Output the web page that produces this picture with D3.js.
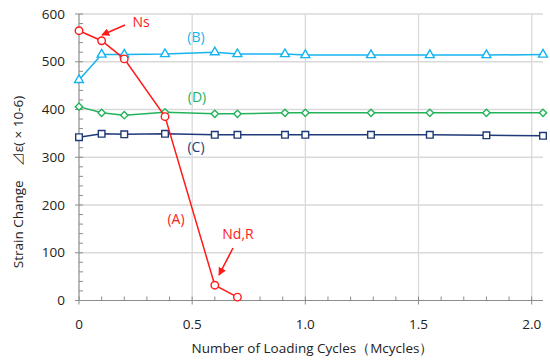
<!DOCTYPE html>
<html><head><meta charset="utf-8">
<script src="https://cdn.jsdelivr.net/npm/d3@7"></script>
<style>body{margin:0;background:#fff;}svg{display:block;font-family:"Open Sans","Noto Sans",sans-serif;}</style>
</head><body>
<script>
const xA = [0, 0.1, 0.2, 0.38, 0.6, 0.7];
const yA = [565, 544, 506, 385, 32, 7];
const xBCD = [0, 0.1, 0.2, 0.38, 0.6, 0.7, 0.91, 1.0, 1.29, 1.55, 1.8, 2.05];
const yB = [462, 515, 515, 516, 520, 516, 516, 514, 514, 514, 514, 515];
const yC = [342, 349, 348, 349, 347, 347, 347, 347, 347, 347, 346, 345];
const yD = [406, 393, 388, 394, 391, 391, 393, 393, 393, 393, 393, 393];
const xTicks = [0, 0.5, 1.0, 1.5, 2.0];
const xTickLabels = ["0", "0.5", "1.0", "1.5", "2.0"];
const yTicks = [0, 100, 200, 300, 400, 500, 600];

const W = 550, H = 362;
const m = {l: 79, r: 7, t: 14, b: 61.5};
const svg = d3.select("body").append("svg").attr("width", W).attr("height", H);
const x = d3.scaleLinear().domain([0, 2.05]).range([m.l, W - m.r]);
const y = d3.scaleLinear().domain([0, 600]).range([H - m.b, m.t]);

// gridlines
svg.append("g").selectAll("line").data(yTicks.slice(1)).join("line")
  .attr("x1", m.l).attr("x2", W - m.r).attr("y1", d => y(d)).attr("y2", d => y(d))
  .attr("stroke", "#d9d9d9").attr("stroke-width", 1.3);
svg.append("g").selectAll("line").data(xTicks.slice(1)).join("line")
  .attr("x1", d => x(d)).attr("x2", d => x(d)).attr("y1", m.t).attr("y2", H - m.b)
  .attr("stroke", "#d9d9d9").attr("stroke-width", 1.3);

// axes
const axCol = "#8c8c8c";
const ax = svg.append("g");
ax.append("line").attr("x1", x(0)).attr("x2", x(0)).attr("y1", y(600)).attr("y2", y(0)).attr("stroke", axCol).attr("stroke-width", 1.2);
ax.append("line").attr("x1", x(0) - 4).attr("x2", W - m.r).attr("y1", y(0)).attr("y2", y(0)).attr("stroke", axCol).attr("stroke-width", 1.2);
ax.selectAll(".ymaj").data(yTicks).join("line").attr("class","ymaj")
  .attr("x1", x(0) - 4).attr("x2", x(0) + 4).attr("y1", d => y(d)).attr("y2", d => y(d)).attr("stroke", axCol);
ax.selectAll(".ymin").data(d3.range(0, 601, 20).filter(v => v % 100)).join("line").attr("class","ymin")
  .attr("x1", x(0)).attr("x2", x(0) + 4).attr("y1", d => y(d)).attr("y2", d => y(d)).attr("stroke", axCol);
ax.selectAll(".xmaj").data(xTicks).join("line").attr("class","xmaj")
  .attr("x1", d => x(d)).attr("x2", d => x(d)).attr("y1", y(0) - 4).attr("y2", y(0) + 4).attr("stroke", axCol);
ax.selectAll(".xmin").data(d3.range(1, 21).map(v => v / 10).filter((v, i) => (i + 1) % 5)).join("line").attr("class","xmin")
  .attr("x1", d => x(d)).attr("x2", d => x(d)).attr("y1", y(0) - 4).attr("y2", y(0)).attr("stroke", axCol);

// tick labels
svg.append("g").selectAll("text").data(yTicks).join("text")
  .attr("x", x(0) - 14).attr("y", d => y(d)).attr("dy", "0.35em").attr("text-anchor", "end")
  .attr("font-size", 13.5).attr("fill", "#222").text(d => d);
svg.append("g").selectAll("text").data(xTicks).join("text")
  .attr("x", d => x(d)).attr("y", y(0) + 28).attr("text-anchor", "middle")
  .attr("font-size", 13.5).attr("fill", "#222").text((d, i) => xTickLabels[i]);

// axis titles
svg.append("text").attr("x", (197 + 428) / 2).attr("y", 353).attr("text-anchor", "middle")
  .attr("font-size", 13.5).attr("fill", "#222").text("Number of Loading Cycles（Mcycles）");
svg.append("text").attr("transform", "translate(23,182) rotate(-90)").attr("text-anchor", "middle")
  .attr("font-size", 13.5).attr("fill", "#222")
  .text("Strain Change　⊿ε( × 10-6)");

// series
const line = d3.line().x(d => x(d[0])).y(d => y(d[1]));
const series = [
  {xs: xBCD, ys: yC, col: "#1f3a78", mk: "square"},
  {xs: xBCD, ys: yD, col: "#22b35a", mk: "diamond"},
  {xs: xBCD, ys: yB, col: "#16b4ef", mk: "triangle"},
  {xs: xA, ys: yA, col: "#ff1a1a", mk: "circle"}
];
const sym = {square: d3.symbolSquare, diamond: d3.symbolDiamond2, triangle: d3.symbolTriangle, circle: d3.symbolCircle};
const size = {square: 44, diamond: 34, triangle: 34, circle: 44};
series.forEach(s => {
  const pts = s.xs.map((v, i) => [v, s.ys[i]]);
  svg.append("path").datum(pts).attr("d", line).attr("fill", "none").attr("stroke", s.col).attr("stroke-width", 1.5);
  svg.append("g").selectAll("path").data(pts).join("path")
    .attr("transform", d => `translate(${x(d[0])},${y(d[1])})`)
    .attr("d", d3.symbol().type(sym[s.mk]).size(size[s.mk]))
    .attr("fill", "#fff").attr("stroke", s.col).attr("stroke-width", 1.4);
});

// labels
const lab = (t, px, py, col) => svg.append("text").attr("x", px).attr("y", py).attr("text-anchor", "middle")
  .attr("font-size", 14).attr("fill", col).text(t);
lab("Ns", 141, 27, "#ff1a1a");
lab("(B)", 196, 42, "#16b4ef");
lab("(D)", 197, 102, "#22b35a");
lab("(C)", 196, 152, "#1f3a78");
lab("(A)", 176, 224, "#ff1a1a");
lab("Nd,R", 238, 239, "#ff1a1a");

// arrows
const defs = svg.append("defs");
defs.append("marker").attr("id", "ah").attr("viewBox", "0 0 10 10").attr("refX", 9).attr("refY", 5)
  .attr("markerWidth", 5).attr("markerHeight", 5).attr("markerUnits", "strokeWidth").attr("orient", "auto")
  .append("path").attr("d", "M0,0L10,5L0,10z").attr("fill", "#ff1a1a");
svg.append("line").attr("x1", 125).attr("y1", 25).attr("x2", 102).attr("y2", 35)
  .attr("stroke", "#ff1a1a").attr("stroke-width", 1.6).attr("marker-end", "url(#ah)");
svg.append("line").attr("x1", 233).attr("y1", 248).attr("x2", 219).attr("y2", 275)
  .attr("stroke", "#ff1a1a").attr("stroke-width", 1.6).attr("marker-end", "url(#ah)");
</script>
</body></html>
